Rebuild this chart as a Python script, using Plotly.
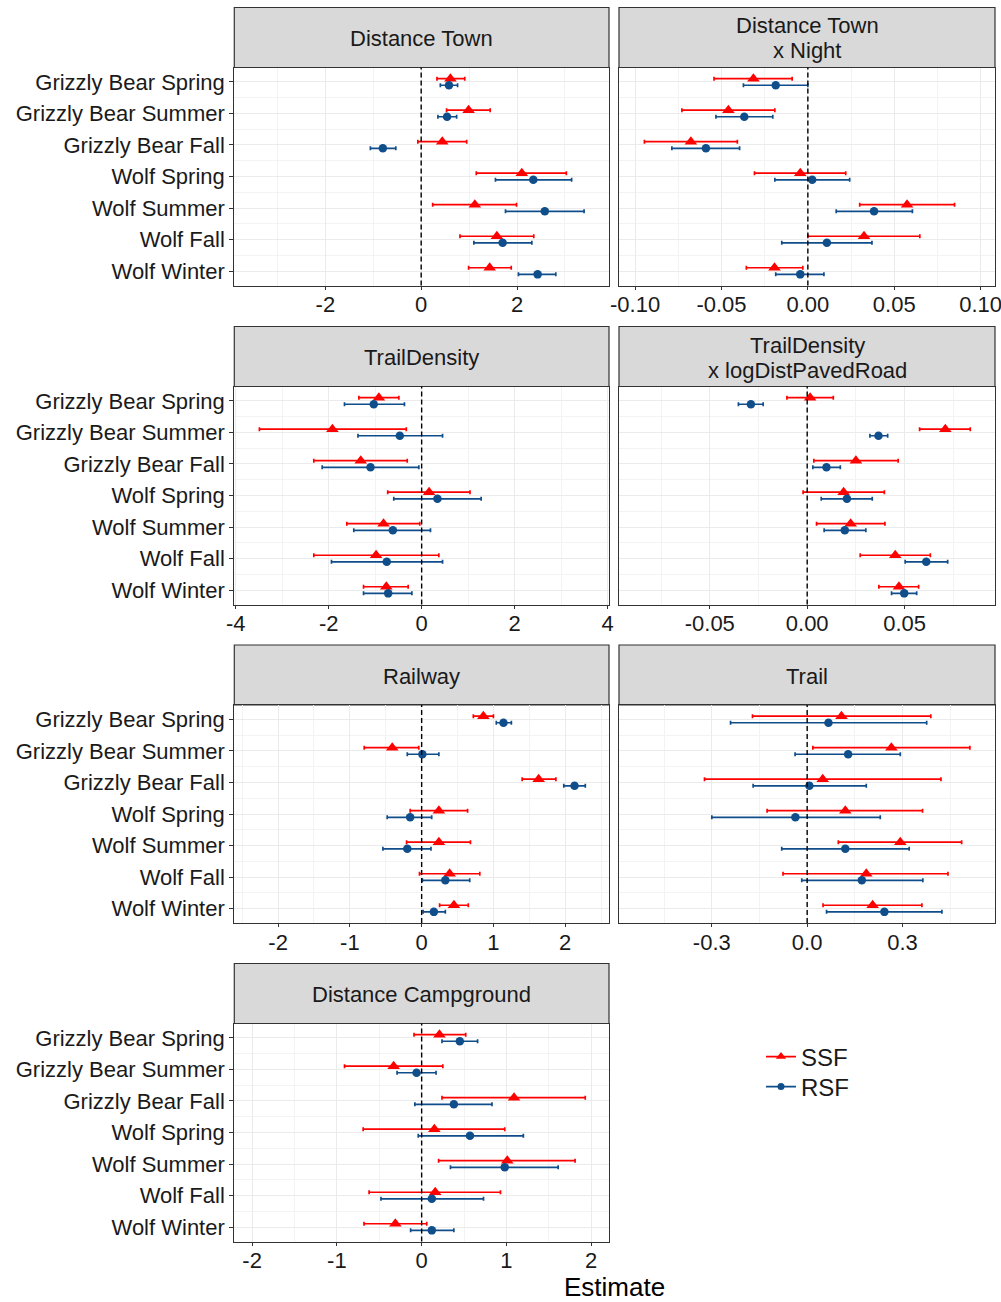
import plotly.graph_objects as go

# ---------------- data ----------------
categories = ["Grizzly Bear Spring", "Grizzly Bear Summer", "Grizzly Bear Fall",
              "Wolf Spring", "Wolf Summer", "Wolf Fall", "Wolf Winter"]

panel_titles = ["Distance Town", "Distance Town<br>x Night", "TrailDensity",
                "TrailDensity<br>x logDistPavedRoad", "Railway", "Trail",
                "Distance Campground"]

# Distance Town
town_ssf = [0.61, 0.99, 0.44, 2.10, 1.12, 1.58, 1.43]
town_ssf_lo = [0.33, 0.53, -0.07, 1.15, 0.24, 0.81, 0.99]
town_ssf_hi = [0.91, 1.44, 0.95, 3.03, 1.99, 2.35, 1.88]
town_rsf = [0.58, 0.54, -0.80, 2.34, 2.58, 1.70, 2.43]
town_rsf_lo = [0.40, 0.35, -1.06, 1.55, 1.76, 1.10, 2.03]
town_rsf_hi = [0.76, 0.74, -0.53, 3.14, 3.40, 2.31, 2.81]

# Distance Town x Night
night_ssf = [-0.0315, -0.0460, -0.0677, -0.0044, 0.0574, 0.0325, -0.0193]
night_ssf_lo = [-0.0543, -0.0729, -0.0946, -0.0309, 0.0300, 0.0000, -0.0356]
night_ssf_hi = [-0.0091, -0.0191, -0.0408, 0.0219, 0.0849, 0.0648, -0.0029]
night_rsf = [-0.0186, -0.0368, -0.0590, 0.0025, 0.0383, 0.0110, -0.0044]
night_rsf_lo = [-0.0373, -0.0532, -0.0787, -0.0191, 0.0164, -0.0151, -0.0186]
night_rsf_hi = [0.0000, -0.0203, -0.0395, 0.0242, 0.0605, 0.0371, 0.0093]

# TrailDensity
tden_ssf = [-0.92, -1.92, -1.31, 0.16, -0.82, -0.98, -0.76]
tden_ssf_lo = [-1.35, -3.49, -2.32, -0.73, -1.61, -2.32, -1.25]
tden_ssf_hi = [-0.49, -0.33, -0.31, 1.04, -0.04, 0.37, -0.29]
tden_rsf = [-1.03, -0.47, -1.10, 0.34, -0.62, -0.75, -0.72]
tden_rsf_lo = [-1.66, -1.37, -2.14, -0.60, -1.46, -1.94, -1.25]
tden_rsf_hi = [-0.37, 0.45, -0.06, 1.28, 0.19, 0.45, -0.21]

# TrailDensity x logDistPavedRoad
tdroad_ssf = [0.0015, 0.0709, 0.0250, 0.0187, 0.0223, 0.0452, 0.0471]
tdroad_ssf_lo = [-0.0104, 0.0577, 0.0034, -0.0021, 0.0048, 0.0272, 0.0368]
tdroad_ssf_hi = [0.0134, 0.0837, 0.0467, 0.0396, 0.0399, 0.0632, 0.0572]
tdroad_rsf = [-0.0289, 0.0366, 0.0099, 0.0204, 0.0193, 0.0611, 0.0498]
tdroad_rsf_lo = [-0.0353, 0.0322, 0.0029, 0.0072, 0.0087, 0.0503, 0.0433]
tdroad_rsf_hi = [-0.0226, 0.0413, 0.0170, 0.0334, 0.0301, 0.0721, 0.0562]

# Railway
rail_ssf = [0.86, -0.41, 1.63, 0.24, 0.24, 0.39, 0.45]
rail_ssf_lo = [0.72, -0.80, 1.40, -0.16, -0.21, -0.03, 0.25]
rail_ssf_hi = [1.00, -0.04, 1.87, 0.64, 0.68, 0.81, 0.65]
rail_rsf = [1.14, 0.01, 2.13, -0.16, -0.20, 0.33, 0.17]
rail_rsf_lo = [1.04, -0.20, 1.98, -0.48, -0.54, 0.01, 0.02]
rail_rsf_hi = [1.25, 0.24, 2.28, 0.14, 0.13, 0.67, 0.33]

# Trail
trail_ssf = [0.108, 0.265, 0.049, 0.120, 0.293, 0.186, 0.206]
trail_ssf_lo = [-0.172, 0.018, -0.323, -0.126, 0.098, -0.076, 0.050]
trail_ssf_hi = [0.389, 0.512, 0.421, 0.363, 0.486, 0.443, 0.361]
trail_rsf = [0.067, 0.129, 0.007, -0.037, 0.120, 0.172, 0.243]
trail_rsf_lo = [-0.241, -0.038, -0.170, -0.300, -0.080, -0.017, 0.061]
trail_rsf_hi = [0.376, 0.293, 0.186, 0.230, 0.321, 0.364, 0.424]

# Distance Campground
camp_ssf = [0.21, -0.33, 1.09, 0.15, 1.01, 0.16, -0.31]
camp_ssf_lo = [-0.09, -0.91, 0.24, -0.69, 0.20, -0.62, -0.68]
camp_ssf_hi = [0.52, 0.25, 1.93, 0.98, 1.81, 0.93, 0.06]
camp_rsf = [0.45, -0.06, 0.38, 0.57, 0.98, 0.12, 0.12]
camp_rsf_lo = [0.24, -0.29, -0.08, -0.04, 0.34, -0.48, -0.13]
camp_rsf_hi = [0.66, 0.17, 0.83, 1.20, 1.61, 0.73, 0.38]

# x-axis ticks per panel
town_ticks = [-2, 0, 2]
night_ticks = [-0.10, -0.05, 0.00, 0.05, 0.10]
tden_ticks = [-4, -2, 0, 2, 4]
tdroad_ticks = [-0.05, 0.00, 0.05]
rail_ticks = [-2, -1, 0, 1, 2]
trail_ticks = [-0.3, 0.0, 0.3]
camp_ticks = [-2, -1, 0, 1, 2]

town_ticktext = ["-2", "0", "2"]
night_ticktext = ["-0.10", "-0.05", "0.00", "0.05", "0.10"]
tden_ticktext = ["-4", "-2", "0", "2", "4"]
tdroad_ticktext = ["-0.05", "0.00", "0.05"]
rail_ticktext = ["-2", "-1", "0", "1", "2"]
trail_ticktext = ["-0.3", "0.0", "0.3"]
camp_ticktext = ["-2", "-1", "0", "1", "2"]

town_minor = [-3, -1, 1, 3]
night_minor = [-0.075, -0.025, 0.025, 0.075]
tden_minor = [-3, -1, 1, 3]
tdroad_minor = [-0.075, -0.025, 0.025, 0.075]
rail_minor = [-2.5, -1.5, -0.5, 0.5, 1.5, 2.5]
trail_minor = [-0.45, -0.15, 0.15, 0.45]
camp_minor = [-1.5, -0.5, 0.5, 1.5]

town_range = [-3.9, 3.92]
night_range = [-0.1093, 0.1083]
tden_range = [-4.03, 4.03]
tdroad_range = [-0.0966, 0.0964]
rail_range = [-2.61, 2.61]
trail_range = [-0.592, 0.591]
camp_range = [-2.21, 2.21]

panels = [
    (town_ssf, town_ssf_lo, town_ssf_hi, town_rsf, town_rsf_lo, town_rsf_hi,
     town_ticks, town_ticktext, town_minor, town_range),
    (night_ssf, night_ssf_lo, night_ssf_hi, night_rsf, night_rsf_lo, night_rsf_hi,
     night_ticks, night_ticktext, night_minor, night_range),
    (tden_ssf, tden_ssf_lo, tden_ssf_hi, tden_rsf, tden_rsf_lo, tden_rsf_hi,
     tden_ticks, tden_ticktext, tden_minor, tden_range),
    (tdroad_ssf, tdroad_ssf_lo, tdroad_ssf_hi, tdroad_rsf, tdroad_rsf_lo, tdroad_rsf_hi,
     tdroad_ticks, tdroad_ticktext, tdroad_minor, tdroad_range),
    (rail_ssf, rail_ssf_lo, rail_ssf_hi, rail_rsf, rail_rsf_lo, rail_rsf_hi,
     rail_ticks, rail_ticktext, rail_minor, rail_range),
    (trail_ssf, trail_ssf_lo, trail_ssf_hi, trail_rsf, trail_rsf_lo, trail_rsf_hi,
     trail_ticks, trail_ticktext, trail_minor, trail_range),
    (camp_ssf, camp_ssf_lo, camp_ssf_hi, camp_rsf, camp_rsf_lo, camp_rsf_hi,
     camp_ticks, camp_ticktext, camp_minor, camp_range),
]

# ---------------- styling / layout ----------------
W, H = 1001, 1302
RED = "#FF0000"
BLUE = "#104E8B"
FONT = "Liberation Sans, Arial, sans-serif"
TXT = "#1A1A1A"
BORDER = "#333333"
GRID = "#EBEBEB"
GRID_MINOR = "#F3F3F3"

col_x = [(234.3, 609.0), (619.0, 995.0)]
strip_tops = [7.5, 326.5, 645.0, 963.5]
STRIP_H = 60.0
PLOT_H = 218.0
DODGE = 0.105

def px_y(p):
    return 1 - p / H

fig = go.Figure()
shapes = []
annotations = []
layout_axes = {}

ypos = list(range(1, len(categories) + 1))

for i, (ssf, ssf_lo, ssf_hi, rsf, rsf_lo, rsf_hi, ticks, ticktext, minor, xr) in enumerate(panels):
    n = i + 1
    row, col = divmod(i, 2)
    x0, x1 = col_x[col]
    st = strip_tops[row]
    ptop = st + STRIP_H
    pbot = ptop + PLOT_H
    xa = "x" if n == 1 else f"x{n}"
    ya = "y" if n == 1 else f"y{n}"
    xkey = "xaxis" if n == 1 else f"xaxis{n}"
    ykey = "yaxis" if n == 1 else f"yaxis{n}"

    layout_axes[xkey] = dict(
        domain=[x0 / W, x1 / W], anchor=ya, range=xr, automargin=False,
        tickmode="array", tickvals=ticks, ticktext=ticktext,
        ticklabeloverflow="allow", ticklabelstandoff=-4,
        showgrid=True, gridcolor=GRID, gridwidth=1.1,
        minor=dict(tickmode="array", tickvals=minor, showgrid=True,
                   gridcolor=GRID_MINOR, gridwidth=0.7, ticks=""),
        zeroline=False, showline=True, mirror=True, linecolor=BORDER, linewidth=1.2,
        ticks="outside", ticklen=3, tickcolor=BORDER, tickwidth=1.1,
        tickfont=dict(family=FONT, size=22, color=TXT),
    )
    layout_axes[ykey] = dict(
        domain=[px_y(pbot), px_y(ptop)], anchor=xa, range=[7.458, 0.542],
        automargin=False,
        tickmode="array", tickvals=ypos, ticktext=categories,
        showticklabels=(col == 0),
        showgrid=True, gridcolor=GRID, gridwidth=1.1,
        minor=dict(tickmode="array", tickvals=[k + 0.5 for k in ypos[:-1]],
                   showgrid=True, gridcolor=GRID_MINOR, gridwidth=0.7, ticks=""),
        zeroline=False, showline=True, mirror=True, linecolor=BORDER, linewidth=1.2,
        ticks="outside" if col == 0 else "", ticklen=4, tickcolor=BORDER, tickwidth=1.1,
        tickfont=dict(family=FONT, size=22, color=TXT),
    )

    # strip
    shapes.append(dict(type="rect", xref="paper", yref="paper",
                       x0=x0 / W, x1=x1 / W, y0=px_y(ptop), y1=px_y(st),
                       fillcolor="#D9D9D9", line=dict(color=BORDER, width=1.2),
                       layer="below"))
    lines = panel_titles[i].split("<br>")
    if len(lines) == 1:
        offsets = [0.0]
    else:
        offsets = [-12.5, 12.5]
    for txt, off in zip(lines, offsets):
        annotations.append(dict(text=txt, xref="paper", yref="paper",
                                x=(x0 + x1) / 2 / W, y=px_y(st + STRIP_H / 2 + 1 + off),
                                xanchor="center", yanchor="middle", showarrow=False,
                                font=dict(family=FONT, size=22, color=TXT)))
    # zero line
    shapes.append(dict(type="line", xref=xa, yref=f"{ya} domain",
                       x0=0, x1=0, y0=0, y1=1,
                       line=dict(color="black", width=1.4, dash="5px,3px"), layer="above"))

    fig.add_trace(go.Scatter(
        x=ssf, y=[p - DODGE for p in ypos], xaxis=xa, yaxis=ya, mode="markers",
        marker=dict(symbol="triangle-up", size=11, color=RED),
        error_x=dict(type="data", symmetric=False,
                     array=[h - e for h, e in zip(ssf_hi, ssf)],
                     arrayminus=[e - l for e, l in zip(ssf, ssf_lo)],
                     color=RED, thickness=1.7, width=2),
        showlegend=False, name="SSF"))
    fig.add_trace(go.Scatter(
        x=rsf, y=[p + DODGE for p in ypos], xaxis=xa, yaxis=ya, mode="markers",
        marker=dict(symbol="circle", size=8.5, color=BLUE),
        error_x=dict(type="data", symmetric=False,
                     array=[h - e for h, e in zip(rsf_hi, rsf)],
                     arrayminus=[e - l for e, l in zip(rsf, rsf_lo)],
                     color=BLUE, thickness=1.7, width=2),
        showlegend=False, name="RSF"))

# legend entries (one legend box per key, positioned like the reference)
fig.add_trace(go.Scatter(x=[None], y=[None], mode="lines+markers", name="SSF",
                         legend="legend",
                         line=dict(color=RED, width=1.7),
                         marker=dict(symbol="triangle-up", size=9, color=RED)))
fig.add_trace(go.Scatter(x=[None], y=[None], mode="lines+markers", name="RSF",
                         legend="legend2",
                         line=dict(color=BLUE, width=1.7),
                         marker=dict(symbol="circle", size=7, color=BLUE)))

annotations.append(dict(text="Estimate", xref="paper", yref="paper",
                        x=614.5 / W, y=px_y(1287), xanchor="center", yanchor="middle",
                        showarrow=False, font=dict(family=FONT, size=26, color="black")))

legend_style = dict(xanchor="left", yanchor="middle",
                    font=dict(family=FONT, size=24, color=TXT),
                    bgcolor="rgba(0,0,0,0)", itemwidth=30)

fig.update_layout(
    width=W, height=H, margin=dict(l=0, r=0, t=0, b=0, autoexpand=False),
    paper_bgcolor="white", plot_bgcolor="white",
    shapes=shapes, annotations=annotations,
    legend=dict(x=761 / W, y=px_y(1057), **legend_style),
    legend2=dict(x=761 / W, y=px_y(1087), **legend_style),
    **layout_axes,
)

fig.write_html("out.html", config={"displayModeBar": False},
               post_script="document.body.style.margin='0';")
